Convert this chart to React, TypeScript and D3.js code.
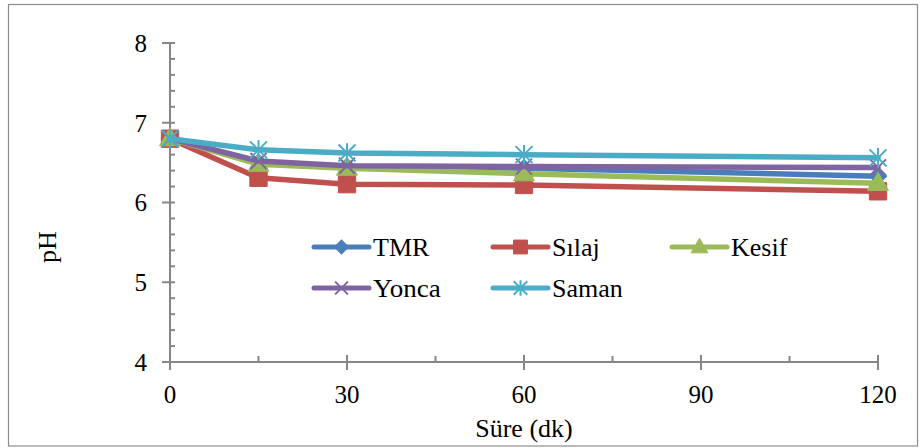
import React from "react";
import * as d3 from "d3";

// Sampling times (minutes) and pH readings per feed type
const minutes = [0, 15, 30, 60, 120];
const tmr = [6.8, 6.5, 6.45, 6.43, 6.33];
const silaj = [6.8, 6.31, 6.23, 6.22, 6.14];
const kesif = [6.8, 6.48, 6.43, 6.36, 6.24];
const yonca = [6.8, 6.52, 6.46, 6.45, 6.44];
const saman = [6.8, 6.66, 6.62, 6.6, 6.56];

const seriesNames = ["TMR", "Sılaj", "Kesif", "Yonca", "Saman"];
const seriesValues = [tmr, silaj, kesif, yonca, saman];
const seriesColors = ["#4A7EBB", "#C0504D", "#9BBB59", "#8064A2", "#4BACC6"];

const xTicks = [0, 30, 60, 90, 120];
const xMinorTicks = [15, 45, 75, 105];
const yTicks = [4, 5, 6, 7, 8];

const W = 920;
const H = 448;
const FONT = '"Liberation Serif", "Times New Roman", "DejaVu Serif", serif';
const AXIS = "#868686";

// Times-style advance widths (per em) so text keeps its set width with any serif face
const ADV: Record<string, number> = {
  S: 0.556, "ü": 0.5, r: 0.333, e: 0.444, " ": 0.25, "(": 0.333, d: 0.5, k: 0.5, ")": 0.333,
  T: 0.611, M: 0.889, R: 0.667, "ı": 0.278, l: 0.278, a: 0.444, j: 0.278, K: 0.722, s: 0.389,
  i: 0.278, f: 0.333, Y: 0.722, o: 0.5, n: 0.5, c: 0.444, m: 0.778, p: 0.5, H: 0.722,
};
const textWidth = (s: string, size: number) =>
  s.split("").reduce((acc, ch) => acc + (ADV[ch] ?? 0.5), 0) * size;

function Label(props: { x?: number; y?: number; text: string; size: number; anchor?: string; dy?: string; transform?: string }) {
  const { x = 0, y = 0, text, size, anchor = "start", dy, transform } = props;
  return (
    <text
      x={x}
      y={y}
      dy={dy}
      transform={transform}
      textAnchor={anchor}
      textLength={textWidth(text, size)}
      lengthAdjust="spacingAndGlyphs"
      style={{ fontFamily: FONT, fontSize: `${size}px` }}
      fill="#000"
    >
      {text}
    </text>
  );
}

// Excel-style star: an X with a vertical stroke through it
const symbolStar = {
  draw(context: any, size: number) {
    const r = Math.sqrt(size) / 2;
    context.moveTo(-r, -r);
    context.lineTo(r, r);
    context.moveTo(-r, r);
    context.lineTo(r, -r);
    context.moveTo(0, -r * 1.15);
    context.lineTo(0, r * 1.15);
  },
};
const symbolCross = {
  draw(context: any, size: number) {
    const r = Math.sqrt(size) / 2;
    context.moveTo(-r, -r);
    context.lineTo(r, r);
    context.moveTo(-r, r);
    context.lineTo(r, -r);
  },
};

type MarkerKind = "diamond" | "square" | "triangle" | "cross" | "star";
const markerKinds: MarkerKind[] = ["diamond", "square", "triangle", "cross", "star"];

function Marker({ kind, color, x, y, scale = 1 }: { kind: MarkerKind; color: string; x: number; y: number; scale?: number }) {
  if (kind === "diamond") {
    const d = d3.symbol(d3.symbolSquare, 150 * scale * scale)()!;
    return <path d={d} transform={`translate(${x},${y}) rotate(45)`} fill={color} stroke={color} strokeWidth={1} />;
  }
  if (kind === "square") {
    const d = d3.symbol(d3.symbolSquare, 300 * scale * scale)()!;
    return <path d={d} transform={`translate(${x},${y})`} fill={color} stroke={color} strokeWidth={1} />;
  }
  if (kind === "triangle") {
    const d = d3.symbol(d3.symbolTriangle, 190 * scale * scale)()!;
    return <path d={d} transform={`translate(${x},${y + 1})`} fill={color} stroke={color} strokeWidth={1} />;
  }
  if (kind === "cross") {
    const d = d3.symbol(symbolCross as any, 256 * scale * scale)()!;
    return <path d={d} transform={`translate(${x},${y})`} fill="none" stroke={color} strokeWidth={2} />;
  }
  const d = d3.symbol(symbolStar as any, 289 * scale * scale)()!;
  return <path d={d} transform={`translate(${x},${y})`} fill="none" stroke={color} strokeWidth={2} />;
}

export default function App() {
  const x = d3.scaleLinear().domain([0, 120]).range([170, 878]);
  const y = d3.scaleLinear().domain([4, 8]).range([362, 43]);
  const yMinor = d3.range(4, 8.001, 0.2).filter((v) => Math.abs(v - Math.round(v)) > 1e-6);

  const line = d3
    .line<number>()
    .x((_, i) => x(minutes[i]))
    .y((v) => y(v));

  const legendRows = [
    { row: 0, col: 0 },
    { row: 0, col: 1 },
    { row: 0, col: 2 },
    { row: 1, col: 0 },
    { row: 1, col: 1 },
  ];
  const legendX0 = [314, 493, 672];
  const legendY = [247, 288];

  return (
    <svg width={W} height={H} style={{ position: "absolute", left: 0, top: 0, background: "#fff" }}>
      <rect x={8.5} y={4.5} width={909} height={441.5} fill="#fff" stroke="#8c8c8c" strokeWidth={1.2} />

      {/* y axis */}
      <line x1={x(0)} x2={x(0)} y1={y(4)} y2={y(8)} stroke={AXIS} strokeWidth={2} />
      {yTicks.map((t) => (
        <g key={"yt" + t}>
          <line x1={x(0) - 8} x2={x(0) + 5} y1={y(t)} y2={y(t)} stroke={AXIS} strokeWidth={2} />
          <Label x={147} y={y(t)} dy="0.35em" anchor="end" text={String(t)} size={25} />
        </g>
      ))}
      {yMinor.map((t) => (
        <line key={"ym" + t} x1={x(0)} x2={x(0) + 5} y1={y(t)} y2={y(t)} stroke={AXIS} strokeWidth={2} />
      ))}

      {/* x axis */}
      <line x1={x(0)} x2={x(120)} y1={y(4)} y2={y(4)} stroke={AXIS} strokeWidth={2} />
      {xTicks.map((t) => (
        <g key={"xt" + t}>
          <line x1={x(t)} x2={x(t)} y1={y(4) - 7} y2={y(4) + 8} stroke={AXIS} strokeWidth={2} />
          <Label x={x(t)} y={403} anchor="middle" text={String(t)} size={25} />
        </g>
      ))}
      {xMinorTicks.map((t) => (
        <line key={"xm" + t} x1={x(t)} x2={x(t)} y1={y(4) - 6} y2={y(4)} stroke={AXIS} strokeWidth={2} />
      ))}

      {/* axis titles */}
      <Label x={x(60)} y={437} anchor="middle" text="Süre (dk)" size={26} />
      <Label transform="translate(56,247) rotate(-90)" anchor="middle" text="pH" size={26} />

      {/* series */}
      {seriesValues.map((vals, si) => (
        <g key={"s" + si}>
          <path d={line(vals)!} fill="none" stroke={seriesColors[si]} strokeWidth={5.5} strokeLinejoin="round" strokeLinecap="round" />
          {vals.map((v, i) => (
            <Marker key={i} kind={markerKinds[si]} color={seriesColors[si]} x={x(minutes[i])} y={y(v)} />
          ))}
        </g>
      ))}

      {/* legend */}
      {seriesNames.map((name, si) => {
        const { row, col } = legendRows[si];
        const lx = legendX0[col];
        const ly = legendY[row];
        return (
          <g key={"lg" + si}>
            <line x1={lx} x2={lx + 55} y1={ly} y2={ly} stroke={seriesColors[si]} strokeWidth={5} strokeLinecap="round" />
            <Marker kind={markerKinds[si]} color={seriesColors[si]} x={lx + 27.5} y={ly} scale={0.8} />
            <Label x={lx + 59} y={ly} dy="0.35em" text={name} size={26} />
          </g>
        );
      })}
    </svg>
  );
}
